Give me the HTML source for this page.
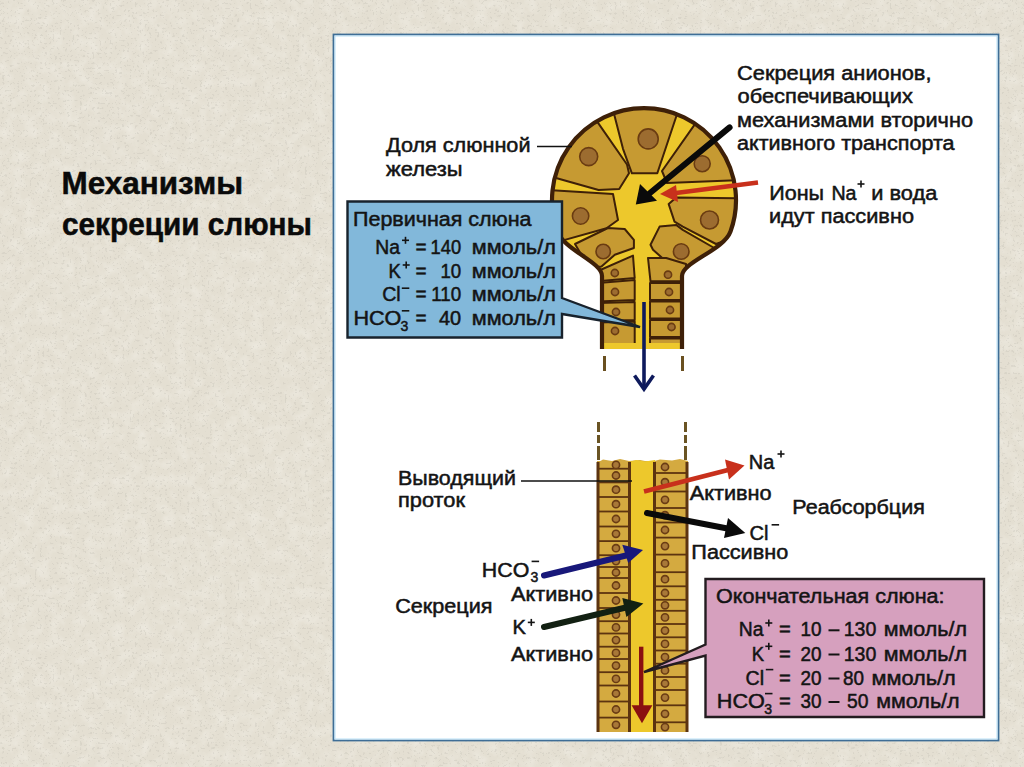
<!DOCTYPE html>
<html><head><meta charset="utf-8">
<style>
html,body{margin:0;padding:0;width:1024px;height:767px;overflow:hidden;background:#e3dccc;}
svg{position:absolute;left:0;top:0;}
text{font-family:"Liberation Sans",sans-serif;}
</style></head><body>
<svg width="1024" height="767" viewBox="0 0 1024 767">
<defs>
<filter id="paper" x="0" y="0" width="100%" height="100%">
<feTurbulence type="fractalNoise" baseFrequency="0.4" numOctaves="2" seed="11" result="n"/>
<feColorMatrix in="n" type="matrix" values="0 0 0 0 0.45  0 0 0 0 0.43  0 0 0 0 0.38  3.2 0 0 0 -1.25" result="m"/>
<feComponentTransfer in="m"><feFuncA type="table" tableValues="0 0 0 0 0 0 0 0.6 1"/></feComponentTransfer>
<feGaussianBlur stdDeviation="0.6"/>
</filter>
<filter id="mottle" x="0" y="0" width="100%" height="100%">
<feTurbulence type="fractalNoise" baseFrequency="0.08" numOctaves="3" seed="5" result="n"/>
<feColorMatrix in="n" type="matrix" values="0 0 0 0 0.98  0 0 0 0 0.97  0 0 0 0 0.93  0 0 0 1.2 -0.45"/>
</filter>
</defs>
<rect x="0" y="0" width="1024" height="767" fill="#e4dfd2"/>
<rect x="0" y="0" width="1024" height="767" fill="#fff" filter="url(#mottle)" opacity="0.5"/>
<rect x="0" y="0" width="1024" height="767" fill="#000" filter="url(#paper)" opacity="0.22"/>
<g font-weight="bold" font-size="31" fill="#0a0a0a" stroke="#0a0a0a" stroke-width="0.5">
<text x="61.5" y="193.7" textLength="181.5" lengthAdjust="spacingAndGlyphs">Механизмы</text>
<text x="62" y="234.5" textLength="250" lengthAdjust="spacingAndGlyphs">секреции слюны</text>
</g>
<rect x="333.5" y="34.5" width="665" height="706" fill="#ffffff" stroke="#3f6e96" stroke-width="1.8"/>
<rect x="335" y="36" width="662" height="703" fill="none" stroke="#b8e0f6" stroke-width="1"/>

<path d="M602,349 L602,276 C602,262 564.3,250.3 557.5,231.5 A92,92 0 1,1 730.5,231.5 C723.7,250.3 682,262 682,276 L682,349 Z" fill="#edc82c"/>
<defs><clipPath id="acl"><path d="M602,349 L602,276 C602,262 564.3,250.3 557.5,231.5 A92,92 0 1,1 730.5,231.5 C723.7,250.3 682,262 682,276 L682,349 Z"/></clipPath></defs>
<g clip-path="url(#acl)">
<polygon points="551.8,177.0 555.6,165.2 560.9,153.9 567.6,143.5 575.7,134.0 584.9,125.7 595.1,118.6 627.0,164.5 629.0,173.3 619.2,189.0 598.6,190.0 556.0,178.0" fill="#c69a32" stroke="#3e2008" stroke-width="2" stroke-linejoin="round"/>
<polygon points="613.1,110.2 623.7,107.2 634.6,105.5 645.7,105.0 656.7,105.8 667.5,108.0 678.0,111.3 657.3,173.3 631.9,173.3 623.0,148.8" fill="#c69a32" stroke="#3e2008" stroke-width="2" stroke-linejoin="round"/>
<polygon points="697.1,121.2 706.7,128.7 715.3,137.3 722.8,146.9 728.9,157.4 733.6,168.5 736.9,180.2 667.0,183.0 662.0,171.0" fill="#c69a32" stroke="#3e2008" stroke-width="2" stroke-linejoin="round"/>
<polygon points="549.5,190.1 549.0,198.9 549.3,207.7 550.4,216.5 552.4,225.1 555.1,233.5 558.6,241.6 606.5,228.2 618.0,220.0 613.0,194.0" fill="#c69a32" stroke="#3e2008" stroke-width="2" stroke-linejoin="round"/>
<polygon points="676.2,197.6 739.0,198.3 738.6,208.7 737.1,218.9 734.5,229.0 730.8,238.6 716.0,244.0 682.8,226.6 674.5,221.6 668.7,204.1" fill="#c69a32" stroke="#3e2008" stroke-width="2" stroke-linejoin="round"/>
<polygon points="575.0,244.0 608.0,228.0 624.7,229.0 633.9,239.8 633.9,248.0 614.8,254.8 601.5,266.4 589.0,268.0" fill="#c69a32" stroke="#3e2008" stroke-width="2" stroke-linejoin="round"/>
<polygon points="650.5,244.8 659.6,226.6 676.2,224.9 682.8,229.9 716.0,249.0 698.0,268.0 686.2,270.0 666.2,261.4 653.0,249.8" fill="#c69a32" stroke="#3e2008" stroke-width="2" stroke-linejoin="round"/>
<polygon points="598.0,271.0 633.0,255.6 634.7,278.0 598.0,281.3" fill="#c69a32" stroke="#3e2008" stroke-width="2" stroke-linejoin="round"/>
<polygon points="598.0,283.0 634.7,280.0 634.7,300.0 598.0,301.5" fill="#c69a32" stroke="#3e2008" stroke-width="2" stroke-linejoin="round"/>
<polygon points="598.0,303.0 634.7,302.0 634.7,320.0 598.0,321.0" fill="#c69a32" stroke="#3e2008" stroke-width="2" stroke-linejoin="round"/>
<polygon points="598.0,322.5 634.7,321.5 634.7,352.0 598.0,352.0" fill="#c69a32" stroke="#3e2008" stroke-width="2" stroke-linejoin="round"/>
<polygon points="648.0,258.0 666.2,258.0 686.0,264.0 686.0,281.3 650.5,281.3" fill="#c69a32" stroke="#3e2008" stroke-width="2" stroke-linejoin="round"/>
<polygon points="650.0,283.0 686.0,283.0 686.0,300.0 650.0,300.0" fill="#c69a32" stroke="#3e2008" stroke-width="2" stroke-linejoin="round"/>
<polygon points="650.0,301.5 686.0,301.5 686.0,318.6 650.0,318.6" fill="#c69a32" stroke="#3e2008" stroke-width="2" stroke-linejoin="round"/>
<polygon points="650.0,320.0 686.0,320.0 686.0,337.0 650.0,337.0" fill="#c69a32" stroke="#3e2008" stroke-width="2" stroke-linejoin="round"/>
<polygon points="650.0,338.5 686.0,338.5 686.0,352.0 650.0,352.0" fill="#c69a32" stroke="#3e2008" stroke-width="2" stroke-linejoin="round"/>
<circle cx="588.7" cy="156.6" r="9" fill="#9c6c30" stroke="#6a3c12" stroke-width="1.6"/>
<circle cx="648.2" cy="138.9" r="10" fill="#9c6c30" stroke="#6a3c12" stroke-width="1.6"/>
<circle cx="702.2" cy="163.7" r="8" fill="#9c6c30" stroke="#6a3c12" stroke-width="1.6"/>
<circle cx="580.6" cy="216" r="8.2" fill="#9c6c30" stroke="#6a3c12" stroke-width="1.6"/>
<circle cx="709.5" cy="220" r="9" fill="#9c6c30" stroke="#6a3c12" stroke-width="1.6"/>
<circle cx="603.2" cy="251.5" r="7.2" fill="#9c6c30" stroke="#6a3c12" stroke-width="1.6"/>
<circle cx="681.2" cy="251.5" r="7.8" fill="#9c6c30" stroke="#6a3c12" stroke-width="1.6"/>
<circle cx="614.8" cy="273" r="3.6" fill="#9c6c30" stroke="#6a3c12" stroke-width="1.6"/>
<circle cx="615" cy="292" r="3.6" fill="#9c6c30" stroke="#6a3c12" stroke-width="1.6"/>
<circle cx="616" cy="312" r="3.6" fill="#9c6c30" stroke="#6a3c12" stroke-width="1.6"/>
<circle cx="615" cy="331" r="3.6" fill="#9c6c30" stroke="#6a3c12" stroke-width="1.6"/>
<circle cx="668" cy="274.7" r="3.6" fill="#9c6c30" stroke="#6a3c12" stroke-width="1.6"/>
<circle cx="669" cy="292" r="3.6" fill="#9c6c30" stroke="#6a3c12" stroke-width="1.6"/>
<circle cx="670" cy="310" r="3.6" fill="#9c6c30" stroke="#6a3c12" stroke-width="1.6"/>
<circle cx="671.5" cy="327" r="3.6" fill="#9c6c30" stroke="#6a3c12" stroke-width="1.6"/>
</g>
<rect x="603" y="343" width="79" height="7" fill="#edc82c"/>
<path d="M602,349 L602,276 C602,262 564.3,250.3 557.5,231.5 A92,92 0 1,1 730.5,231.5 C723.7,250.3 682,262 682,276 L682,349" fill="none" stroke="#3e2008" stroke-width="4.2"/>
<rect x="599" y="349" width="90" height="8" fill="#fff"/>
<g stroke="#6a5020" stroke-width="3"><line x1="604.5" y1="356" x2="604.5" y2="371"/><line x1="682.5" y1="356" x2="682.5" y2="371"/></g>
<g stroke="#0e1a5c" stroke-width="3.6" fill="none"><line x1="644" y1="302" x2="644" y2="388"/><polyline points="634.5,375.5 644,389 653.5,375.5" stroke-linejoin="miter"/></g>
<line x1="729.6" y1="127.4" x2="650" y2="193" stroke="#0a0a0a" stroke-width="6" stroke-linecap="round"/>
<polygon points="635.8,204.6 640,184 657,200.7" fill="#0a0a0a"/>
<line x1="758" y1="182.5" x2="672" y2="193.5" stroke="#c8301c" stroke-width="4.6"/>
<polygon points="660,194 676,185 678,202" fill="#c8301c"/>
<line x1="537" y1="146.5" x2="572" y2="146.5" stroke="#111" stroke-width="1.5"/>
<path d="M347.5,201.5 L562,201.5 L562,298 L640,327 L562,314 L562,337.5 L347.5,337.5 Z" fill="#82b8da" stroke="#18222c" stroke-width="2.4" stroke-linejoin="miter"/>
<rect x="597" y="461" width="91" height="271" fill="#d4aa40"/>
<rect x="629" y="461" width="26" height="271" fill="#edc82c"/>
<path d="M597,463 L603,459.5 L612,461 L620,459 L629,461 L640,460 L650,462 L660,459.5 L672,460.5 L680,459 L688,461 L688,466 L597,466 Z" fill="#d4aa40"/>
<path d="M629,462 L636,460 L645,461.5 L655,460 L655,466 L629,466 Z" fill="#edc82c"/>
<line x1="598" y1="468.7" x2="629" y2="468.7" stroke="#5c3410" stroke-width="1.8"/>
<line x1="598" y1="482.4" x2="629" y2="482.4" stroke="#5c3410" stroke-width="1.8"/>
<line x1="598" y1="497" x2="629" y2="497" stroke="#5c3410" stroke-width="1.8"/>
<line x1="598" y1="511.5" x2="629" y2="511.5" stroke="#5c3410" stroke-width="1.8"/>
<line x1="598" y1="526.5" x2="629" y2="526.5" stroke="#5c3410" stroke-width="1.8"/>
<line x1="598" y1="541.1" x2="629" y2="541.1" stroke="#5c3410" stroke-width="1.8"/>
<line x1="598" y1="555.2" x2="629" y2="555.2" stroke="#5c3410" stroke-width="1.8"/>
<line x1="598" y1="567" x2="629" y2="567" stroke="#5c3410" stroke-width="1.8"/>
<line x1="598" y1="578" x2="629" y2="578" stroke="#5c3410" stroke-width="1.8"/>
<line x1="598" y1="593" x2="629" y2="593" stroke="#5c3410" stroke-width="1.8"/>
<line x1="598" y1="608" x2="629" y2="608" stroke="#5c3410" stroke-width="1.8"/>
<line x1="598" y1="621.2" x2="629" y2="621.2" stroke="#5c3410" stroke-width="1.8"/>
<line x1="598" y1="633.5" x2="629" y2="633.5" stroke="#5c3410" stroke-width="1.8"/>
<line x1="598" y1="646.7" x2="629" y2="646.7" stroke="#5c3410" stroke-width="1.8"/>
<line x1="598" y1="659" x2="629" y2="659" stroke="#5c3410" stroke-width="1.8"/>
<line x1="598" y1="672.2" x2="629" y2="672.2" stroke="#5c3410" stroke-width="1.8"/>
<line x1="598" y1="685.5" x2="629" y2="685.5" stroke="#5c3410" stroke-width="1.8"/>
<line x1="598" y1="701.5" x2="629" y2="701.5" stroke="#5c3410" stroke-width="1.8"/>
<line x1="598" y1="717.6" x2="629" y2="717.6" stroke="#5c3410" stroke-width="1.8"/>
<line x1="655" y1="473" x2="687" y2="473" stroke="#5c3410" stroke-width="1.8"/>
<line x1="655" y1="491.5" x2="687" y2="491.5" stroke="#5c3410" stroke-width="1.8"/>
<line x1="655" y1="508" x2="687" y2="508" stroke="#5c3410" stroke-width="1.8"/>
<line x1="655" y1="522.5" x2="687" y2="522.5" stroke="#5c3410" stroke-width="1.8"/>
<line x1="655" y1="537.6" x2="687" y2="537.6" stroke="#5c3410" stroke-width="1.8"/>
<line x1="655" y1="554.6" x2="687" y2="554.6" stroke="#5c3410" stroke-width="1.8"/>
<line x1="655" y1="572.2" x2="687" y2="572.2" stroke="#5c3410" stroke-width="1.8"/>
<line x1="655" y1="586.3" x2="687" y2="586.3" stroke="#5c3410" stroke-width="1.8"/>
<line x1="655" y1="599.8" x2="687" y2="599.8" stroke="#5c3410" stroke-width="1.8"/>
<line x1="655" y1="610.8" x2="687" y2="610.8" stroke="#5c3410" stroke-width="1.8"/>
<line x1="655" y1="624" x2="687" y2="624" stroke="#5c3410" stroke-width="1.8"/>
<line x1="655" y1="637.3" x2="687" y2="637.3" stroke="#5c3410" stroke-width="1.8"/>
<line x1="655" y1="650.5" x2="687" y2="650.5" stroke="#5c3410" stroke-width="1.8"/>
<line x1="655" y1="663.7" x2="687" y2="663.7" stroke="#5c3410" stroke-width="1.8"/>
<line x1="655" y1="677" x2="687" y2="677" stroke="#5c3410" stroke-width="1.8"/>
<line x1="655" y1="690" x2="687" y2="690" stroke="#5c3410" stroke-width="1.8"/>
<line x1="655" y1="705.3" x2="687" y2="705.3" stroke="#5c3410" stroke-width="1.8"/>
<line x1="655" y1="722.3" x2="687" y2="722.3" stroke="#5c3410" stroke-width="1.8"/>
<circle cx="616" cy="464.9" r="3.6" fill="#a87838" stroke="#6a3c14" stroke-width="1.6"/>
<circle cx="616" cy="475.5" r="3.6" fill="#a87838" stroke="#6a3c14" stroke-width="1.6"/>
<circle cx="616" cy="489.7" r="3.6" fill="#a87838" stroke="#6a3c14" stroke-width="1.6"/>
<circle cx="616" cy="504.2" r="3.6" fill="#a87838" stroke="#6a3c14" stroke-width="1.6"/>
<circle cx="616" cy="519.0" r="3.6" fill="#a87838" stroke="#6a3c14" stroke-width="1.6"/>
<circle cx="616" cy="533.8" r="3.6" fill="#a87838" stroke="#6a3c14" stroke-width="1.6"/>
<circle cx="616" cy="548.2" r="3.6" fill="#a87838" stroke="#6a3c14" stroke-width="1.6"/>
<circle cx="616" cy="561.1" r="3.6" fill="#a87838" stroke="#6a3c14" stroke-width="1.6"/>
<circle cx="616" cy="572.5" r="3.6" fill="#a87838" stroke="#6a3c14" stroke-width="1.6"/>
<circle cx="616" cy="585.5" r="3.6" fill="#a87838" stroke="#6a3c14" stroke-width="1.6"/>
<circle cx="616" cy="600.5" r="3.6" fill="#a87838" stroke="#6a3c14" stroke-width="1.6"/>
<circle cx="616" cy="614.6" r="3.6" fill="#a87838" stroke="#6a3c14" stroke-width="1.6"/>
<circle cx="616" cy="627.4" r="3.6" fill="#a87838" stroke="#6a3c14" stroke-width="1.6"/>
<circle cx="616" cy="640.1" r="3.6" fill="#a87838" stroke="#6a3c14" stroke-width="1.6"/>
<circle cx="616" cy="652.9" r="3.6" fill="#a87838" stroke="#6a3c14" stroke-width="1.6"/>
<circle cx="616" cy="665.6" r="3.6" fill="#a87838" stroke="#6a3c14" stroke-width="1.6"/>
<circle cx="616" cy="678.9" r="3.6" fill="#a87838" stroke="#6a3c14" stroke-width="1.6"/>
<circle cx="616" cy="693.5" r="3.6" fill="#a87838" stroke="#6a3c14" stroke-width="1.6"/>
<circle cx="616" cy="709.5" r="3.6" fill="#a87838" stroke="#6a3c14" stroke-width="1.6"/>
<circle cx="616" cy="724.8" r="3.6" fill="#a87838" stroke="#6a3c14" stroke-width="1.6"/>
<circle cx="665" cy="467.0" r="3.6" fill="#a87838" stroke="#6a3c14" stroke-width="1.6"/>
<circle cx="665" cy="482.2" r="3.6" fill="#a87838" stroke="#6a3c14" stroke-width="1.6"/>
<circle cx="665" cy="499.8" r="3.6" fill="#a87838" stroke="#6a3c14" stroke-width="1.6"/>
<circle cx="665" cy="515.2" r="3.6" fill="#a87838" stroke="#6a3c14" stroke-width="1.6"/>
<circle cx="665" cy="530.0" r="3.6" fill="#a87838" stroke="#6a3c14" stroke-width="1.6"/>
<circle cx="665" cy="546.1" r="3.6" fill="#a87838" stroke="#6a3c14" stroke-width="1.6"/>
<circle cx="665" cy="563.4" r="3.6" fill="#a87838" stroke="#6a3c14" stroke-width="1.6"/>
<circle cx="665" cy="579.2" r="3.6" fill="#a87838" stroke="#6a3c14" stroke-width="1.6"/>
<circle cx="665" cy="593.0" r="3.6" fill="#a87838" stroke="#6a3c14" stroke-width="1.6"/>
<circle cx="665" cy="605.3" r="3.6" fill="#a87838" stroke="#6a3c14" stroke-width="1.6"/>
<circle cx="665" cy="617.4" r="3.6" fill="#a87838" stroke="#6a3c14" stroke-width="1.6"/>
<circle cx="665" cy="630.6" r="3.6" fill="#a87838" stroke="#6a3c14" stroke-width="1.6"/>
<circle cx="665" cy="643.9" r="3.6" fill="#a87838" stroke="#6a3c14" stroke-width="1.6"/>
<circle cx="665" cy="657.1" r="3.6" fill="#a87838" stroke="#6a3c14" stroke-width="1.6"/>
<circle cx="665" cy="670.4" r="3.6" fill="#a87838" stroke="#6a3c14" stroke-width="1.6"/>
<circle cx="665" cy="683.5" r="3.6" fill="#a87838" stroke="#6a3c14" stroke-width="1.6"/>
<circle cx="665" cy="697.6" r="3.6" fill="#a87838" stroke="#6a3c14" stroke-width="1.6"/>
<circle cx="665" cy="713.8" r="3.6" fill="#a87838" stroke="#6a3c14" stroke-width="1.6"/>
<circle cx="665" cy="727.1" r="3.6" fill="#a87838" stroke="#6a3c14" stroke-width="1.6"/>
<g stroke="#5c3410" stroke-width="3"><line x1="598" y1="462" x2="598" y2="732"/><line x1="629.5" y1="462" x2="629.5" y2="732"/><line x1="654.5" y1="462" x2="654.5" y2="732"/><line x1="687" y1="462" x2="687" y2="732"/></g>
<g stroke="#6a5424" stroke-width="3" stroke-dasharray="10,3,8,3,14"><line x1="598.5" y1="422" x2="598.5" y2="460"/><line x1="685.5" y1="422" x2="685.5" y2="460"/></g>
<line x1="644" y1="491.5" x2="728" y2="470" stroke="#c8301c" stroke-width="4.6"/>
<polygon points="744.5,465.4 725,459.5 729,479.5" fill="#c8301c"/>
<line x1="647" y1="513" x2="730" y2="529" stroke="#0a0a0a" stroke-width="6" stroke-linecap="round"/>
<polygon points="745.3,533 728,518 724,538" fill="#0a0a0a"/>
<line x1="544" y1="575.5" x2="628" y2="555" stroke="#18187a" stroke-width="6" stroke-linecap="round"/>
<polygon points="643,550 622.3,544.7 628.2,563" fill="#18187a"/>
<line x1="544" y1="627" x2="628" y2="607" stroke="#122012" stroke-width="6" stroke-linecap="round"/>
<polygon points="643.4,603.4 622.3,598 626.4,617" fill="#122012"/>
<g fill="#8a1010"><rect x="639" y="646.7" width="4.4" height="62"/><polygon points="631.6,705.3 652.4,705.3 642,723.3"/></g>
<line x1="521" y1="481" x2="632" y2="481" stroke="#111" stroke-width="1.5"/>
<path d="M705.5,579 L984,579 L984,717 L705.5,717 L705.5,655.5 L644,672 L705.5,644.5 Z" fill="#d6a0be" stroke="#231c20" stroke-width="2.4"/>
<g fill="#141414" stroke="#141414" stroke-width="0.5">
<text x="737.0" y="79.5" font-size="20" textLength="194.5" lengthAdjust="spacingAndGlyphs">Секреция анионов,</text>
<text x="737.5" y="103" font-size="20" textLength="175.5" lengthAdjust="spacingAndGlyphs">обеспечивающих</text>
<text x="737.0" y="126.5" font-size="20" textLength="236.0" lengthAdjust="spacingAndGlyphs">механизмами вторично</text>
<text x="737.0" y="150" font-size="20" textLength="217.5" lengthAdjust="spacingAndGlyphs">активного транспорта</text>
<text x="386.0" y="152" font-size="20" textLength="144.5" lengthAdjust="spacingAndGlyphs">Доля слюнной</text>
<text x="386.0" y="175.5" font-size="20" textLength="76.5" lengthAdjust="spacingAndGlyphs">железы</text>
<text x="769.2" y="200" font-size="20" textLength="54.8" lengthAdjust="spacingAndGlyphs">Ионы</text>
<text x="831.4" y="200" font-size="20" textLength="25.1" lengthAdjust="spacingAndGlyphs">Na</text>
<text x="871.3" y="200" font-size="20" textLength="66.0" lengthAdjust="spacingAndGlyphs">и вода</text>
<text x="769.0" y="223" font-size="20" textLength="145.0" lengthAdjust="spacingAndGlyphs">идут пассивно</text>
<text x="353.0" y="225.5" font-size="20" textLength="178.5" lengthAdjust="spacingAndGlyphs">Первичная слюна</text>
<text x="398.0" y="484.6" font-size="20" textLength="118.0" lengthAdjust="spacingAndGlyphs">Выводящий</text>
<text x="398.0" y="507.2" font-size="20" textLength="67.0" lengthAdjust="spacingAndGlyphs">проток</text>
<text x="481.8" y="577.3" font-size="20" textLength="47.5" lengthAdjust="spacingAndGlyphs">HCO</text>
<text x="511.0" y="601.3" font-size="20" textLength="82.0" lengthAdjust="spacingAndGlyphs">Активно</text>
<text x="395.2" y="612.5" font-size="20" textLength="97.3" lengthAdjust="spacingAndGlyphs">Секреция</text>
<text x="512.6" y="634.1" font-size="20" textLength="13.4" lengthAdjust="spacingAndGlyphs">K</text>
<text x="511.0" y="660.7" font-size="20" textLength="82.0" lengthAdjust="spacingAndGlyphs">Активно</text>
<text x="748.8" y="468.6" font-size="20" textLength="25.5" lengthAdjust="spacingAndGlyphs">Na</text>
<text x="689.7" y="499.6" font-size="20" textLength="82.0" lengthAdjust="spacingAndGlyphs">Активно</text>
<text x="792.3" y="513.8" font-size="20" textLength="132.5" lengthAdjust="spacingAndGlyphs">Реабсорбция</text>
<text x="749.4" y="539.5" font-size="20" textLength="19" lengthAdjust="spacingAndGlyphs">Cl</text>
<text x="691.3" y="559" font-size="20" textLength="97.0" lengthAdjust="spacingAndGlyphs">Пассивно</text>
<text x="716.0" y="603" font-size="20" textLength="228.5" lengthAdjust="spacingAndGlyphs">Окончательная слюна:</text>
<text x="375.3" y="254" font-size="20" textLength="24.7" lengthAdjust="spacingAndGlyphs">Na</text>
<text x="388.4" y="277.5" font-size="20" textLength="12.3" lengthAdjust="spacingAndGlyphs">K</text>
<text x="382.2" y="301" font-size="20" textLength="18.5" lengthAdjust="spacingAndGlyphs">Cl</text>
<text x="353.4" y="325" font-size="20" textLength="48" lengthAdjust="spacingAndGlyphs">HCO</text>
<rect x="402.0" y="239.5" width="7" height="1.6" stroke="none"/><rect x="404.7" y="236.8" width="1.6" height="7" stroke="none"/>
<rect x="402.7" y="264.2" width="7" height="1.6" stroke="none"/><rect x="405.4" y="261.5" width="1.6" height="7" stroke="none"/>
<rect x="401.8" y="287.4" width="7.5" height="1.6" stroke="none"/>
<rect x="401.8" y="310.0" width="7.5" height="1.6" stroke="none"/>
<text x="404.5" y="331" font-size="14" text-anchor="middle">3</text>
<text x="415.6" y="254" font-size="20" textLength="11.1" lengthAdjust="spacingAndGlyphs">=</text>
<text x="430.6" y="254" font-size="20" textLength="30.6" lengthAdjust="spacingAndGlyphs">140</text>
<text x="471.8" y="254" font-size="20" textLength="84.0" lengthAdjust="spacingAndGlyphs">ммоль/л</text>
<text x="415.6" y="277.5" font-size="20" textLength="11.1" lengthAdjust="spacingAndGlyphs">=</text>
<text x="440.4" y="277.5" font-size="20" textLength="20.8" lengthAdjust="spacingAndGlyphs">10</text>
<text x="471.8" y="277.5" font-size="20" textLength="84.0" lengthAdjust="spacingAndGlyphs">ммоль/л</text>
<text x="415.6" y="301" font-size="20" textLength="11.1" lengthAdjust="spacingAndGlyphs">=</text>
<text x="431.3" y="301" font-size="20" textLength="30" lengthAdjust="spacingAndGlyphs">110</text>
<text x="471.8" y="301" font-size="20" textLength="84.0" lengthAdjust="spacingAndGlyphs">ммоль/л</text>
<text x="415.6" y="325" font-size="20" textLength="11.1" lengthAdjust="spacingAndGlyphs">=</text>
<text x="439" y="325" font-size="20" textLength="22.2" lengthAdjust="spacingAndGlyphs">40</text>
<text x="471.8" y="325" font-size="20" textLength="84.0" lengthAdjust="spacingAndGlyphs">ммоль/л</text>
<text x="738.7" y="636.3" font-size="20" textLength="24.7" lengthAdjust="spacingAndGlyphs">Na</text>
<text x="751.7" y="660.5" font-size="20" textLength="12.3" lengthAdjust="spacingAndGlyphs">K</text>
<text x="745.6" y="684.5" font-size="20" textLength="18.5" lengthAdjust="spacingAndGlyphs">Cl</text>
<text x="716.8" y="708" font-size="20" textLength="48" lengthAdjust="spacingAndGlyphs">HCO</text>
<rect x="765.3" y="622.2" width="7" height="1.6" stroke="none"/><rect x="768.0" y="619.5" width="1.6" height="7" stroke="none"/>
<rect x="765.3" y="645.5" width="7" height="1.6" stroke="none"/><rect x="768.0" y="642.8" width="1.6" height="7" stroke="none"/>
<rect x="765.8" y="668.8" width="7.5" height="1.6" stroke="none"/>
<rect x="765.0" y="692.8" width="7.5" height="1.6" stroke="none"/>
<text x="768.2" y="714" font-size="14" text-anchor="middle">3</text>
<text x="779.1" y="636.3" font-size="20" textLength="11.8" lengthAdjust="spacingAndGlyphs">=</text>
<text x="800.5" y="636.3" font-size="20" textLength="21" lengthAdjust="spacingAndGlyphs">10</text>
<rect x="828.5" y="629.3" width="11" height="2" stroke="none"/>
<text x="843.7" y="636.3" font-size="20" textLength="32.6" lengthAdjust="spacingAndGlyphs">130</text>
<text x="883.8" y="636.3" font-size="20" textLength="83.2" lengthAdjust="spacingAndGlyphs">ммоль/л</text>
<text x="779.1" y="660.5" font-size="20" textLength="11.8" lengthAdjust="spacingAndGlyphs">=</text>
<text x="800.5" y="660.5" font-size="20" textLength="21" lengthAdjust="spacingAndGlyphs">20</text>
<rect x="828.5" y="653.5" width="11" height="2" stroke="none"/>
<text x="843.7" y="660.5" font-size="20" textLength="32.6" lengthAdjust="spacingAndGlyphs">130</text>
<text x="883.8" y="660.5" font-size="20" textLength="83.2" lengthAdjust="spacingAndGlyphs">ммоль/л</text>
<text x="779.1" y="684.5" font-size="20" textLength="11.8" lengthAdjust="spacingAndGlyphs">=</text>
<text x="800.5" y="684.5" font-size="20" textLength="21" lengthAdjust="spacingAndGlyphs">20</text>
<rect x="828.5" y="677.5" width="11" height="2" stroke="none"/>
<text x="843" y="684.5" font-size="20" textLength="21" lengthAdjust="spacingAndGlyphs">80</text>
<text x="871.5" y="684.5" font-size="20" textLength="84.3" lengthAdjust="spacingAndGlyphs">ммоль/л</text>
<text x="779.1" y="708" font-size="20" textLength="11.8" lengthAdjust="spacingAndGlyphs">=</text>
<text x="800.5" y="708" font-size="20" textLength="21" lengthAdjust="spacingAndGlyphs">30</text>
<rect x="828.5" y="701" width="11" height="2" stroke="none"/>
<text x="847" y="708" font-size="20" textLength="21.5" lengthAdjust="spacingAndGlyphs">50</text>
<text x="876.3" y="708" font-size="20" textLength="83.3" lengthAdjust="spacingAndGlyphs">ммоль/л</text>
<rect x="527.8" y="621.6" width="7" height="1.6" stroke="none"/><rect x="530.5" y="618.9" width="1.6" height="7" stroke="none"/>
<rect x="531.6" y="560.6" width="7.5" height="1.6" stroke="none"/>
<text x="534.3" y="581.5" font-size="14" text-anchor="middle">3</text>
<rect x="777.5" y="453.2" width="7" height="1.6" stroke="none"/><rect x="780.2" y="450.5" width="1.6" height="7" stroke="none"/>
<rect x="857.5" y="183.2" width="7" height="1.6" stroke="none"/><rect x="860.2" y="180.5" width="1.6" height="7" stroke="none"/>
<rect x="771.6" y="524.0" width="7.5" height="1.6" stroke="none"/>
</g>
</svg>
</body></html>
